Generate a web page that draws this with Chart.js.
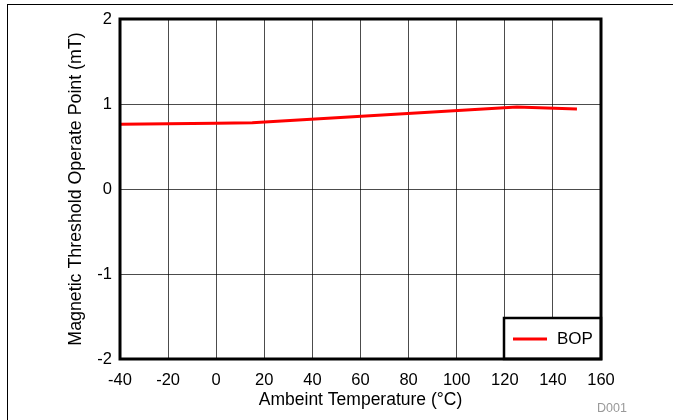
<!DOCTYPE html>
<html>
<head>
<meta charset="utf-8">
<style>
  html, body { margin: 0; padding: 0; background: #fff; }
  canvas { display: block; }
</style>
<script src="https://cdn.jsdelivr.net/npm/chart.js@4/dist/chart.umd.min.js"></script>
</head>
<body>
<canvas id="c" width="673" height="420"></canvas>
<script>
// Ambient temperature (°C) and BOP operate point (mT)
const temperatures = [-40, 0, 15, 125, 150];
const bopValues = [0.763, 0.773, 0.78, 0.965, 0.94];
const xTicks = [-40, -20, 0, 20, 40, 60, 80, 100, 120, 140, 160];
const yTicks = [-2, -1, 0, 1, 2];

const FONT = "'Liberation Sans', Arial, sans-serif";

// Page frame, plot frame and inset legend
const decorations = {
  id: 'decorations',
  beforeDraw(chart) {
    const ctx = chart.ctx;
    ctx.save();
    ctx.fillStyle = '#fff';
    ctx.fillRect(0, 0, chart.width, chart.height);
    ctx.strokeStyle = '#000';
    ctx.lineWidth = 1;
    ctx.strokeRect(7.5, 4.5, 700, 500);
    ctx.restore();
  },
  afterDraw(chart) {
    const ctx = chart.ctx;
    const a = chart.chartArea;
    ctx.save();
    // legend box in the lower-right corner of the plot
    const ds = chart.data.datasets[0];
    const bx = 504, by = 318, bw = a.right - 504, bh = a.bottom - 318;
    ctx.fillStyle = '#fff';
    ctx.fillRect(bx, by, bw, bh);
    ctx.strokeStyle = '#000';
    ctx.lineWidth = 2.5;
    ctx.strokeRect(bx, by, bw, bh);
    ctx.strokeStyle = ds.borderColor;
    ctx.lineWidth = 3;
    ctx.beginPath();
    ctx.moveTo(bx + 9, by + 21);
    ctx.lineTo(bx + 43, by + 21);
    ctx.stroke();
    ctx.fillStyle = '#000';
    ctx.font = '17px ' + FONT;
    ctx.textBaseline = 'middle';
    ctx.textAlign = 'left';
    ctx.fillText(ds.label, bx + 53, by + 21);
    // plot frame
    ctx.lineWidth = 3;
    ctx.strokeStyle = '#000';
    ctx.strokeRect(a.left, a.top, a.right - a.left, a.bottom - a.top);
    // figure id
    ctx.fillStyle = '#999';
    ctx.font = '12.5px ' + FONT;
    ctx.textAlign = 'left';
    ctx.fillText('D001', 597, 409);
    ctx.restore();
  }
};

new Chart(document.getElementById('c'), {
  type: 'scatter',
  data: {
    datasets: [{
      label: 'BOP',
      data: temperatures.map((t, i) => ({ x: t, y: bopValues[i] })),
      showLine: true,
      borderColor: '#ff0000',
      backgroundColor: '#ff0000',
      borderWidth: 3,
      pointRadius: 0,
      tension: 0
    }]
  },
  options: {
    responsive: false,
    animation: false,
    devicePixelRatio: 1,
    layout: { padding: { left: 0, top: 19, right: 72, bottom: 0 } },
    plugins: { legend: { display: false }, tooltip: { enabled: false } },
    scales: {
      x: {
        type: 'linear',
        min: -40, max: 160,
        afterBuildTicks(scale) { scale.ticks = xTicks.map(v => ({ value: v })); },
        afterFit(scale) { scale.height = 61; },
        grid: { color: 'rgba(0,0,0,0.7)', lineWidth: 1, drawTicks: false },
        border: { display: false },
        ticks: { color: '#000', font: { family: FONT, size: 16.5 }, padding: 12, maxRotation: 0 },
        title: { display: true, text: 'Ambeint Temperature (°C)', color: '#000',
                 font: { family: FONT, size: 17.5 }, padding: { top: 0, bottom: 9 } }
      },
      y: {
        min: -2, max: 2,
        afterBuildTicks(scale) { scale.ticks = yTicks.map(v => ({ value: v })); },
        afterFit(scale) { scale.width = 120; },
        grid: { color: 'rgba(0,0,0,0.7)', lineWidth: 1, drawTicks: false },
        border: { display: false },
        ticks: { color: '#000', font: { family: FONT, size: 16.5 }, padding: 8 },
        title: { display: true, text: 'Magnetic Threshold Operate Point (mT)', color: '#000',
                 font: { family: FONT, size: 17.8 }, padding: { top: 65, bottom: 0 } }
      }
    }
  },
  plugins: [decorations]
});
</script>
</body>
</html>
